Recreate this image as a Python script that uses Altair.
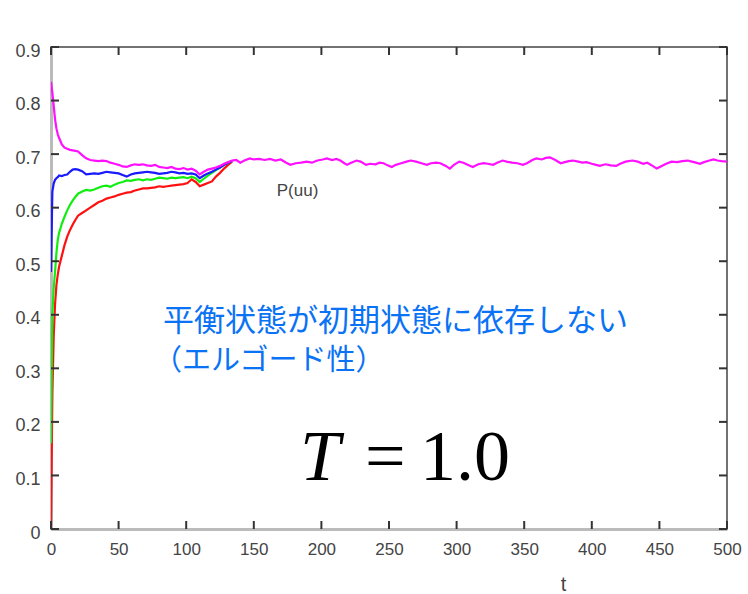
import altair as alt
import pandas as pd

# ---------------- data ----------------
t_early = [0, 1, 2, 3, 4, 5, 6,
           8, 10, 12, 14, 16, 18, 20,
           23, 26, 29, 32, 35, 38, 41, 44, 47, 50,
           53, 56, 59, 62, 65, 68, 71, 74, 77, 80,
           83, 86, 89, 92, 95, 98, 101, 104, 107, 110,
           113, 116, 119, 122, 125, 128, 131, 134]

magenta_early = [0.835, 0.815, 0.79, 0.765, 0.748, 0.737, 0.73,
                 0.718, 0.712, 0.71, 0.708, 0.707, 0.706, 0.705,
                 0.698, 0.692, 0.689, 0.688, 0.687, 0.688, 0.687, 0.684, 0.682, 0.68,
                 0.677, 0.676, 0.679, 0.681, 0.68, 0.681, 0.679, 0.678, 0.68, 0.676,
                 0.675, 0.674, 0.676, 0.673, 0.672, 0.674, 0.671, 0.673, 0.669, 0.662,
                 0.667, 0.671, 0.673, 0.675, 0.678, 0.682, 0.685, 0.688]

blue = [0.48, 0.63, 0.645, 0.652, 0.655, 0.657, 0.66,
        0.659, 0.661, 0.662, 0.667, 0.671, 0.672, 0.671,
        0.668, 0.662, 0.663, 0.664, 0.663, 0.665, 0.667, 0.666, 0.665, 0.664,
        0.661, 0.658, 0.662, 0.664, 0.665, 0.666, 0.667, 0.666, 0.665, 0.663,
        0.664, 0.665, 0.667, 0.666, 0.664, 0.665, 0.663, 0.664, 0.662, 0.655,
        0.66, 0.664, 0.667, 0.671, 0.675, 0.68, 0.684, 0.687]

green = [0.16, 0.40, 0.45, 0.48, 0.515, 0.54, 0.553,
         0.57, 0.583, 0.595, 0.605, 0.613, 0.62, 0.626,
         0.63, 0.633, 0.632, 0.634, 0.637, 0.64, 0.641, 0.639, 0.643, 0.646,
         0.648, 0.651, 0.65, 0.652, 0.653, 0.651, 0.653, 0.652, 0.654, 0.656,
         0.655, 0.654, 0.656, 0.655, 0.656, 0.657, 0.655, 0.658, 0.655, 0.648,
         0.654, 0.66, 0.665, 0.67, 0.675, 0.68, 0.684, 0.687]

red = [0.0, 0.25, 0.36, 0.42, 0.455, 0.475, 0.49,
       0.51, 0.53, 0.546, 0.558, 0.568, 0.577, 0.585,
       0.59, 0.595, 0.6, 0.605, 0.61, 0.613, 0.617, 0.619, 0.621, 0.624,
       0.626, 0.628, 0.629, 0.632, 0.634, 0.636, 0.636, 0.637, 0.638, 0.64,
       0.639, 0.64, 0.641, 0.642, 0.643, 0.644, 0.646, 0.653, 0.648, 0.64,
       0.643, 0.646, 0.649, 0.658, 0.665, 0.673, 0.68, 0.686]

t_late = [137, 140, 143, 147, 150, 154, 158, 162, 166, 170,
          174, 177, 181, 185, 189, 193, 197, 201, 204, 208,
          211, 214, 217, 219, 222, 226, 229, 233, 236, 240,
          243, 246, 249, 252, 255, 259, 263, 266, 270, 274,
          278, 281, 285, 288, 292, 295, 298, 302, 305, 309,
          312, 316, 320, 323, 327, 330, 334, 337, 341, 345,
          349, 352, 356, 359, 363, 366, 369, 373, 377, 380,
          383, 386, 390, 393, 396, 400, 403, 406, 410, 414,
          418, 421, 425, 430, 434, 438, 441, 445, 448, 451,
          455, 459, 463, 467, 471, 474, 477, 480, 483, 487,
          490, 493, 496, 500]

magenta_late = [0.689, 0.684, 0.688, 0.692, 0.690, 0.691, 0.689, 0.691, 0.688, 0.690,
                0.684, 0.680, 0.683, 0.684, 0.686, 0.684, 0.688, 0.690, 0.692, 0.689,
                0.691, 0.688, 0.683, 0.680, 0.684, 0.688, 0.686, 0.680, 0.682, 0.681,
                0.684, 0.683, 0.679, 0.676, 0.680, 0.683, 0.686, 0.688, 0.686, 0.683,
                0.680, 0.683, 0.684, 0.683, 0.678, 0.673, 0.680, 0.686, 0.684, 0.679,
                0.676, 0.681, 0.683, 0.682, 0.680, 0.684, 0.688, 0.686, 0.684, 0.683,
                0.680, 0.683, 0.689, 0.692, 0.690, 0.693, 0.694, 0.689, 0.683, 0.685,
                0.687, 0.688, 0.686, 0.684, 0.685, 0.682, 0.680, 0.678, 0.681, 0.679,
                0.678, 0.682, 0.686, 0.688, 0.686, 0.682, 0.684, 0.678, 0.673, 0.677,
                0.682, 0.686, 0.685, 0.687, 0.688, 0.686, 0.684, 0.682, 0.685, 0.688,
                0.690, 0.688, 0.687, 0.686]

x_ticks = [0, 50, 100, 150, 200, 250, 300, 350, 400, 450, 500]
y_ticks = [0, 0.1, 0.2, 0.3, 0.4, 0.5, 0.6, 0.7, 0.8, 0.9]

series_names = ["red", "green", "blue", "magenta"]
series_colors = ["#ff1010", "#10ee10", "#1a1aff", "#ff10ff"]

# ---------------- tables ----------------
rows = []
for name, vals in [("red", red), ("green", green), ("blue", blue)]:
    for t, v in zip(t_early, vals):
        rows.append({"series": name, "t": t, "v": v})
for t, v in zip(t_early + t_late, magenta_early + magenta_late):
    rows.append({"series": "magenta", "t": t, "v": v})
df = pd.DataFrame(rows)

xt = pd.DataFrame({"t": x_ticks})
yt = pd.DataFrame({"v": y_ticks})

W, H = 676, 482

x_scale = alt.Scale(domain=[0, 500], nice=False, zero=False)
y_scale = alt.Scale(domain=[0, 0.9], nice=False)

x_axis = alt.Axis(values=x_ticks, title="t", labelFontSize=17, labelColor="#444",
                  labelFont="Liberation Sans", labelPadding=12, labelFlush=False,
                  ticks=False, grid=False, domainColor="#bbbbbb", domainWidth=3,
                  titleX=512, titleY=61, titleBaseline="alphabetic", titleAlign="center",
                  titleFontWeight="normal", titleFontSize=20, titleColor="#444",
                  titleFont="Liberation Sans")
y_axis = alt.Axis(values=y_ticks, format=".1~f", title=None, labelFontSize=18,
                  labelColor="#444", labelFont="Liberation Sans", labelPadding=11,
                  labelOffset=4, ticks=False, grid=False, domainColor="#bbbbbb",
                  domainWidth=3)

layers = []
for i, (name, col) in enumerate(zip(series_names, series_colors)):
    enc_x = alt.X("t:Q", scale=x_scale, axis=x_axis, title="t") if i == 0 else alt.X("t:Q")
    enc_y = alt.Y("v:Q", scale=y_scale, axis=y_axis) if i == 0 else alt.Y("v:Q")
    layers.append(
        alt.Chart(df).transform_filter(alt.datum.series == name)
        .mark_line(color=col, strokeWidth=2.2, clip=True)
        .encode(x=enc_x, y=enc_y)
    )

# inward-pointing ticks on all four sides
rule_kw = dict(color="#333333", strokeWidth=2, strokeCap="butt")
TL = 8
layers += [
    alt.Chart(xt).mark_rule(**rule_kw).encode(x="t:Q", y=alt.value(H), y2=alt.value(H - TL)),
    alt.Chart(xt).mark_rule(**rule_kw).encode(x="t:Q", y=alt.value(0), y2=alt.value(TL)),
    alt.Chart(yt).mark_rule(**rule_kw).encode(y="v:Q", x=alt.value(0), x2=alt.value(TL)),
    alt.Chart(yt).mark_rule(**rule_kw).encode(y="v:Q", x=alt.value(W), x2=alt.value(W - TL)),
]


def text_layer(label, t, v, **kw):
    d = pd.DataFrame({"t": [t], "v": [v]})
    return alt.Chart(d).mark_text(text=label, **kw).encode(x="t:Q", y="v:Q")


layers += [
    text_layer("P(uu)", 167.0, 0.631, fontSize=17, color="#444", font="Liberation Sans",
               align="left", baseline="middle"),
    text_layer("平衡状態が初期状態に依存しない", 82.8, 0.3865, fontSize=31, color="#0a72f5",
               font="Noto Sans CJK JP", align="left", baseline="middle"),
    text_layer("（エルゴード性）", 75.5, 0.3137, fontSize=29, color="#0a72f5",
               font="Noto Sans CJK JP", align="left", baseline="middle"),
    text_layer("T", 184.2, 0.0915, fontSize=72, color="black", font="Liberation Serif",
               fontStyle="italic", align="left", baseline="alphabetic"),
    text_layer("=", 232.2, 0.0915, fontSize=72, color="black", font="Liberation Serif",
               align="left", baseline="alphabetic"),
    text_layer("1.0", 273.0, 0.0915, fontSize=72, color="black", font="Liberation Serif",
               align="left", baseline="alphabetic"),
]

chart = alt.layer(*layers).properties(
    width=W, height=H,
    autosize=alt.AutoSizeParams(type="none"),
    padding={"left": 51, "top": 47, "right": 21, "bottom": 65},
    background="white",
).configure_view(stroke="#444", strokeWidth=1.5)

chart.save("out.html", embed_options={"renderer": "svg", "actions": False})
